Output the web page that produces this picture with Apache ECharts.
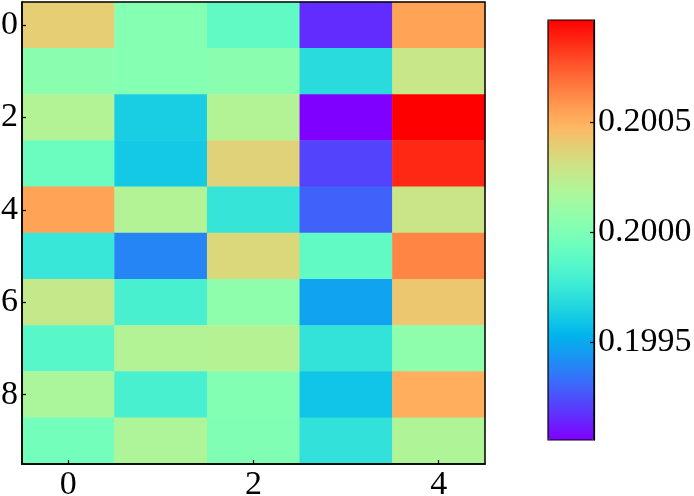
<!DOCTYPE html>
<html><head><meta charset="utf-8">
<script src="https://cdn.jsdelivr.net/npm/echarts@6/dist/echarts.min.js"></script>
<style>html,body{margin:0;padding:0;background:#fff}#c{width:694px;height:496px}</style>
</head><body><div id="c"></div>
<script>
var xCategories = ['0','1','2','3','4'];
var yCategories = ['0','1','2','3','4','5','6','7','8','9'];
var row0 = [0.200391, 0.200029, 0.199895, 0.199160, 0.200544];
var row1 = [0.200048, 0.200029, 0.200048, 0.199685, 0.200277];
var row2 = [0.200200, 0.199628, 0.200200, 0.199055, 0.200964];
var row3 = [0.199933, 0.199609, 0.200372, 0.199217, 0.200869];
var row4 = [0.200544, 0.200200, 0.199733, 0.199294, 0.200286];
var row5 = [0.199742, 0.199389, 0.200353, 0.199895, 0.200630];
var row6 = [0.200267, 0.199800, 0.200067, 0.199475, 0.200420];
var row7 = [0.199857, 0.200200, 0.200210, 0.199723, 0.200067];
var row8 = [0.200172, 0.199800, 0.200019, 0.199590, 0.200506];
var row9 = [0.199962, 0.200181, 0.200010, 0.199714, 0.200191];
var colorbarTicks = [0.1995, 0.2000, 0.2005];
var vmin = 0.199055, vmax = 0.200964;

var rows = [row0,row1,row2,row3,row4,row5,row6,row7,row8,row9];
var data = [];
rows.forEach(function(r, yi){ r.forEach(function(v, xi){ data.push([xi, yi, v]); }); });

function rainbow(t){
  var r = Math.min(1, Math.abs(2*t-0.5));
  var g = Math.sin(Math.PI*t);
  var b = Math.cos(Math.PI*t/2);
  function h(c){ var s = Math.round(Math.max(0,Math.min(1,c))*255).toString(16); return s.length<2?'0'+s:s; }
  return '#'+h(r)+h(g)+h(b);
}
var stops = [];
for (var i=0;i<=40;i++) stops.push(rainbow(i/40));

var font = 'Liberation Serif';
var chart = echarts.init(document.getElementById('c'));
chart.setOption({
  animation: false,
  backgroundColor: '#fff',
  grid: [
    {left: 22, top: 2, width: 463, height: 462, show: true, backgroundColor: 'transparent', borderColor: '#000', borderWidth: 1.5, z: 10, outerBoundsMode: 'none', containLabel: false},
    {left: 548, top: 20, width: 46, height: 420, show: true, backgroundColor: 'transparent', borderColor: '#000', borderWidth: 1.2, z: 10, outerBoundsMode: 'none', containLabel: false}
  ],
  xAxis: [
    {type: 'category', gridIndex: 0, data: xCategories, position: 'bottom', z: 11,
     axisLine: {show: true, onZero: false, lineStyle: {color: '#000', width: 1.5}},
     axisTick: {show: true, inside: true, length: 4, interval: 1, alignWithLabel: true, lineStyle: {color: '#000', width: 1.2}},
     axisLabel: {interval: 1, color: '#000', fontFamily: font, fontSize: 34, margin: 4},
     splitLine: {show: false}},
    {type: 'category', gridIndex: 1, data: [''], show: false}
  ],
  yAxis: [
    {type: 'category', gridIndex: 0, data: yCategories, inverse: true, z: 11,
     axisLine: {show: true, onZero: false, lineStyle: {color: '#000', width: 1.5}},
     axisTick: {show: true, inside: true, length: 4, interval: 1, alignWithLabel: true, lineStyle: {color: '#000', width: 1.2}},
     axisLabel: {interval: 1, color: '#000', fontFamily: font, fontSize: 34, margin: 4},
     splitLine: {show: false}},
    {type: 'value', gridIndex: 1, position: 'right', min: vmin, max: vmax, z: 11,
     axisLine: {show: true, onZero: false, lineStyle: {color: '#000', width: 1.2}},
     axisTick: {show: true, inside: true, length: 4, customValues: colorbarTicks, lineStyle: {color: '#000', width: 1.2}},
     axisLabel: {color: '#000', fontFamily: font, fontSize: 34, margin: 4, customValues: colorbarTicks,
       formatter: function(v){ return v.toFixed(4); }},
     splitLine: {show: false}}
  ],
  visualMap: {
    type: 'continuous', min: vmin, max: vmax, seriesIndex: 0, calculable: false, hoverLink: false,
    left: 548, top: 20, itemWidth: 46, itemHeight: 420, padding: 0, orient: 'vertical', z: 1,
    inRange: {color: stops}, text: null, showLabel: false
  },
  series: [{
    type: 'heatmap', xAxisIndex: 0, yAxisIndex: 0, data: data, z: 1,
    itemStyle: {borderWidth: 0}, emphasis: {disabled: true}
  }]
});
</script></body></html>
